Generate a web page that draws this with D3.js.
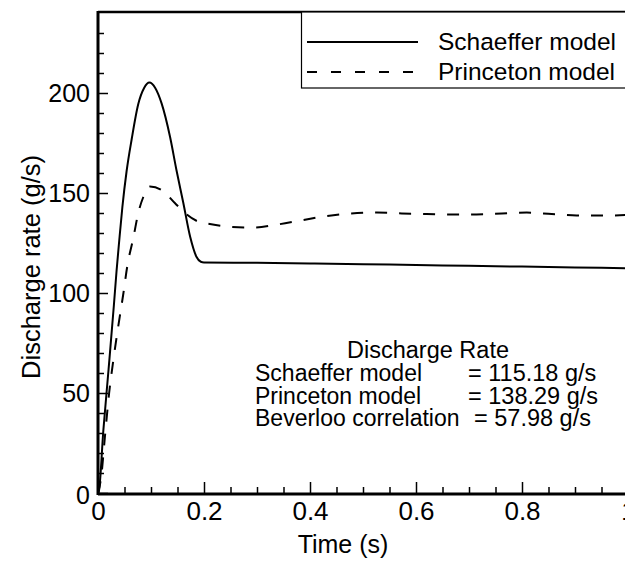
<!DOCTYPE html>
<html>

<head>
    <script src="https://d3js.org/d3.v7.min.js"></script>
    <style>
        body {
            margin: 0;
            background: #fff;
        }

        text {
            font-family: Arial, "Liberation Sans", sans-serif;
            fill: #000;
        }

        .curve {
            fill: none;
            stroke: #000;
            stroke-width: 2px;
        }
    </style>
</head>

<body>
    <svg id="chart" width="625" height="561"></svg>

    <script>
        // Schaeffer model (solid)
        var schaefferTime = [0, 0.002, 0.01, 0.02, 0.03, 0.035, 0.04, 0.046, 0.054, 0.0636, 0.076, 0.087, 0.097,
            0.108, 0.12, 0.136, 0.148, 0.161, 0.174, 0.186, 0.194, 0.2, 0.3, 0.4, 0.5, 0.6, 0.7, 0.8, 0.9, 1.0];
        var schaefferRate = [0, 1.5, 31, 62, 94, 111, 126, 143, 161, 177, 194.5, 202.5, 205.2,
            202.5, 194.8, 178, 161.5, 145, 128, 118, 115.6, 115.3, 115.1, 114.8, 114.4, 114.0, 113.6, 113.2, 112.8, 112.4];

        // Princeton model (dashed)
        var princetonTime = [0, 0.006, 0.013, 0.021, 0.029, 0.038, 0.048, 0.055, 0.067, 0.076, 0.0855, 0.098,
            0.12, 0.145, 0.164, 0.189, 0.211, 0.245, 0.293, 0.34, 0.387, 0.431, 0.478, 0.526, 0.573, 0.62,
            0.667, 0.714, 0.762, 0.809, 0.856, 0.903, 0.947, 1.0];
        var princetonRate = [0, 8, 28, 50, 66.5, 83, 100, 113, 128, 140, 148, 153.2,
            151.5, 145, 140, 135.7, 134.5, 133.2, 132.7, 134.3, 136.5, 138.5, 139.8, 140.2, 139.8, 139.5,
            139.2, 139.3, 139.8, 140.2, 139.5, 138.8, 138.7, 139];

        var xMajorTicks = [0, 0.2, 0.4, 0.6, 0.8, 1];
        var xMinorTicks = d3.range(1, 20).map(function (i) { return i * 0.05; })
            .filter(function (d, i) { return (i + 1) % 4 !== 0; });
        var yMajorTicks = [0, 50, 100, 150, 200];
        var yMinorTicks = d3.range(1, 24).map(function (i) { return i * 10; })
            .filter(function (d) { return d % 50 !== 0; });

        var legendLabels = ["Schaeffer model", "Princeton model"];
        var noteTitle = "Discharge Rate";
        var noteNames = ["Schaeffer model", "Princeton model", "Beverloo correlation"];
        var noteValues = ["= 115.18 g/s", "= 138.29 g/s", "= 57.98 g/s"];

        var svg = d3.select("#chart");

        var plotLeft = 98, plotRight = 628, plotTop = 13, plotBottom = 493;

        var x = d3.scaleLinear().domain([0, 1]).range([plotLeft, plotRight]);
        var y = d3.scaleLinear().domain([0, 240]).range([plotBottom, plotTop]);

        // curves
        function series(ts, vs) {
            return ts.map(function (t, i) { return [t, vs[i]]; });
        }

        var line = d3.line()
            .x(function (d) { return x(d[0]); })
            .y(function (d) { return y(d[1]); })
            .curve(d3.curveMonotoneX);

        svg.append("path")
            .attr("class", "curve")
            .attr("d", line(series(schaefferTime, schaefferRate)));

        svg.append("path")
            .attr("class", "curve")
            .attr("stroke-dasharray", "12,12")
            .attr("d", line(series(princetonTime, princetonRate)));

        // minor ticks (no labels)
        svg.append("g")
            .attr("transform", "translate(" + plotLeft + ",0)")
            .call(d3.axisLeft(y).tickValues(yMinorTicks).tickSize(-6).tickFormat("").tickSizeOuter(0))
            .call(function (g) { g.select(".domain").remove(); });

        svg.append("g")
            .attr("transform", "translate(0," + (plotBottom + 1) + ")")
            .call(d3.axisBottom(x).tickValues(xMinorTicks).tickSize(-7).tickFormat("").tickSizeOuter(0))
            .call(function (g) { g.select(".domain").remove(); });

        // major ticks with labels
        var yAxis = svg.append("g")
            .attr("transform", "translate(" + plotLeft + ",0)")
            .call(d3.axisLeft(y).tickValues(yMajorTicks).tickSize(-10).tickPadding(8).tickSizeOuter(0));

        var xAxis = svg.append("g")
            .attr("transform", "translate(0," + (plotBottom + 1) + ")")
            .call(d3.axisBottom(x).tickValues(xMajorTicks).tickSize(-12).tickPadding(8).tickSizeOuter(0)
                .tickFormat(function (d) { return String(d); }));

        svg.selectAll(".tick line").attr("stroke", "#000").attr("stroke-width", 1.5);
        yAxis.selectAll(".tick text").attr("font-size", 25).attr("font-family", "Arial, 'Liberation Sans', sans-serif");
        xAxis.selectAll(".tick text").attr("font-size", 26).attr("font-family", "Arial, 'Liberation Sans', sans-serif");
        yAxis.select(".tick text").attr("dy", "0.4em");   // "0" sits a bit low, left of the corner
        xAxis.selectAll(".domain").remove();
        yAxis.selectAll(".domain").remove();

        // frame
        svg.append("line").attr("x1", plotLeft).attr("x2", plotLeft).attr("y1", 11).attr("y2", plotBottom + 2)
            .attr("stroke", "#000").attr("stroke-width", 3);
        svg.append("line").attr("x1", plotLeft).attr("x2", 625).attr("y1", plotBottom + 1).attr("y2", plotBottom + 1)
            .attr("stroke", "#000").attr("stroke-width", 3);
        svg.append("line").attr("x1", plotLeft).attr("x2", 625).attr("y1", 12).attr("y2", 12)
            .attr("stroke", "#000").attr("stroke-width", 2.5);

        // axis titles
        svg.append("text")
            .attr("x", 343).attr("y", 553)
            .attr("text-anchor", "middle")
            .attr("font-size", 25)
            .text("Time (s)");

        svg.append("text")
            .attr("transform", "translate(40,267) rotate(-90)")
            .attr("text-anchor", "middle")
            .attr("font-size", 25.5)
            .text("Discharge rate (g/s)");

        // legend
        svg.append("rect")
            .attr("x", 301.5).attr("y", 12).attr("width", 340).attr("height", 76)
            .attr("fill", "#fff").attr("stroke", "#000").attr("stroke-width", 1.2);

        var legend = svg.append("g");
        legend.selectAll("line")
            .data(legendLabels)
            .enter().append("line")
            .attr("x1", 307).attr("x2", 418)
            .attr("y1", function (d, i) { return 42 + i * 30; })
            .attr("y2", function (d, i) { return 42 + i * 30; })
            .attr("stroke", "#000").attr("stroke-width", 2)
            .attr("stroke-dasharray", function (d, i) { return i === 1 ? "10,14" : null; });

        legend.selectAll("text")
            .data(legendLabels)
            .enter().append("text")
            .attr("x", 438)
            .attr("y", function (d, i) { return 50 + i * 30; })
            .attr("font-size", 24.5)
            .text(function (d) { return d; });

        // note block
        svg.append("text")
            .attr("x", 428).attr("y", 358)
            .attr("text-anchor", "middle")
            .attr("font-size", 23.5)
            .text(noteTitle);

        var note = svg.append("g");
        note.selectAll(".noteName")
            .data(noteNames)
            .enter().append("text")
            .attr("class", "noteName")
            .attr("x", 255)
            .attr("y", function (d, i) { return 381 + i * 22.5; })
            .attr("font-size", 23)
            .text(function (d) { return d; });

        note.selectAll(".noteValue")
            .data(noteValues)
            .enter().append("text")
            .attr("class", "noteValue")
            .attr("x", function (d, i) { return i === 2 ? 474 : 468; })
            .attr("y", function (d, i) { return 381 + i * 22.5; })
            .attr("font-size", 23.5)
            .text(function (d) { return d; });
    </script>
</body>

</html>
